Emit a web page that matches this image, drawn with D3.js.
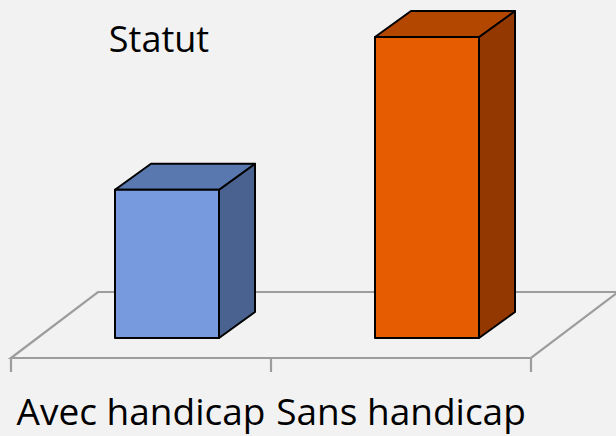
<!DOCTYPE html>
<html>
<head>
<meta charset="utf-8">
<script src="https://cdn.jsdelivr.net/npm/d3@7"></script>
<style>
  body { margin: 0; background: #f2f2f2; }
  svg { display: block; }
  text { font-family: "Open Sans", sans-serif; fill: #000; }
</style>
</head>
<body>
<svg id="viz"></svg>
<script>
var width = 616;
var height = 436;

// chart data
var categories = ["Avec handicap", "Sans handicap"];
var values = [33, 67];
var frontColors = ["#7799dd", "#e65c00"];
var topColors = ["#5a78b0", "#b34700"];
var sideColors = ["#4a6290", "#933800"];
var title = "Statut";

var svg = d3.select("#viz").attr("width", width).attr("height", height);

// floor (front edge) and the 3d offset of the floor
var floorY = 358;
var depthX = 87, depthY = -66;
// bar depth and where it sits inside the floor
var barDX = 36, barDY = -26;
var barOffX = 26, barOffY = -20;
var barW = 104;

var x = d3.scaleBand().domain(categories).range([11, 531]);
var y = d3.scaleLinear().domain([0, d3.max(values)]).range([0, 301]);

var floor = svg.append("g")
    .attr("stroke", "#9d9d9d")
    .attr("stroke-width", 2.2)
    .attr("fill", "none");

var x0 = x.range()[0], x1 = x.range()[1];
floor.append("path")
    .attr("d", "M" + x0 + "," + floorY + "L" + (x0 + depthX) + "," + (floorY + depthY) +
        "L" + (x1 + depthX) + "," + (floorY + depthY) + "L" + x1 + "," + floorY + "Z");

// ticks on the category axis
var tickPos = categories.map(function (c) { return x(c); }).concat([x1]);
floor.selectAll("line.tick")
    .data(tickPos)
    .enter()
    .append("line")
    .attr("x1", function (d) { return d; })
    .attr("x2", function (d) { return d; })
    .attr("y1", floorY)
    .attr("y2", floorY + 14);

// bars as boxes
var bars = svg.append("g")
    .selectAll("g")
    .data(values)
    .enter()
    .append("g")
    .attr("stroke", "#000")
    .attr("stroke-width", 2)
    .attr("stroke-linejoin", "round");

function pts(arr) {
    return arr.map(function (p) { return p[0] + "," + p[1]; }).join(" ");
}

bars.each(function (d, i) {
    var g = d3.select(this);
    var left = x(categories[i]) + barOffX + (x.bandwidth() - barW) / 2;
    var right = left + barW;
    var bottom = floorY + barOffY;
    var top = bottom - y(d);

    g.append("polygon")
        .attr("fill", sideColors[i])
        .attr("points", pts([[right, top], [right + barDX, top + barDY],
            [right + barDX, bottom + barDY], [right, bottom]]));
    g.append("polygon")
        .attr("fill", topColors[i])
        .attr("points", pts([[left, top], [left + barDX, top + barDY],
            [right + barDX, top + barDY], [right, top]]));
    g.append("rect")
        .attr("fill", frontColors[i])
        .attr("x", left)
        .attr("y", top)
        .attr("width", barW)
        .attr("height", bottom - top);
});

// category labels
svg.append("g")
    .selectAll("text")
    .data(categories)
    .enter()
    .append("text")
    .attr("x", function (d) { return x(d) + x.bandwidth() / 2; })
    .attr("y", 425)
    .attr("text-anchor", "middle")
    .style("font-size", "37px")
    .text(function (d) { return d; });

svg.append("text")
    .attr("x", 159)
    .attr("y", 52)
    .attr("text-anchor", "middle")
    .style("font-size", "36px")
    .text(title);
</script>
</body>
</html>
